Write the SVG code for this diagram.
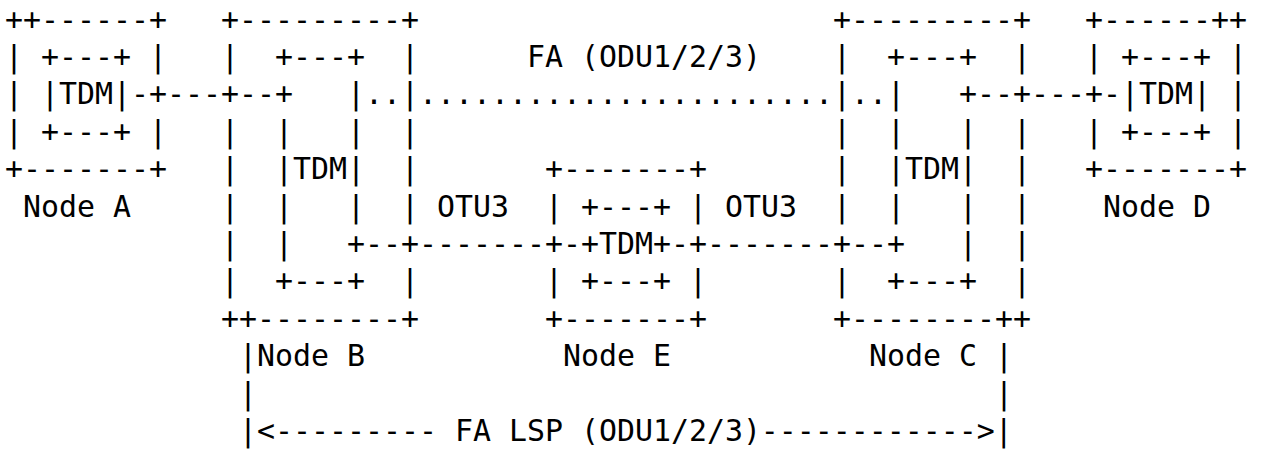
<svg xmlns="http://www.w3.org/2000/svg" width="1261" height="453" viewBox="0 0 1261 453" xml:space="preserve">
<style>
text { font-family: "DejaVu Sans Mono", "Liberation Mono", monospace; font-size: 29.9px; fill: #000; white-space: pre; }
</style>
<rect x="0" y="0" width="1261" height="453" fill="#fff"/>
<g id="node-a">
<text x="5" y="29.5">++------+</text>
<text x="5" y="66.9">| +---+ |</text>
<text x="5" y="104.3">| |TDM|</text>
<text x="5" y="141.7">| +---+ |</text>
<text x="5" y="179.1">+-------+</text>
<text x="23" y="216.5">Node A</text>
</g>
<g id="node-b">
<text x="221" y="29.5">+---------+</text>
<text x="221" y="66.9">|  +---+  |</text>
<text x="347" y="104.3">|</text>
<text x="401" y="104.3">|</text>
<text x="221" y="141.7">|  |   |  |</text>
<text x="221" y="179.1">|  |TDM|  |</text>
<text x="221" y="216.5">|  |   |  |</text>
<text x="221" y="253.9">|  |</text>
<text x="221" y="291.3">|  +---+  |</text>
<text x="221" y="328.7">++--------+</text>
<text x="257" y="366.1">Node B</text>
</g>
<g id="node-e">
<text x="545" y="179.1">+-------+</text>
<text x="545" y="216.5">| +---+ |</text>
<text x="599" y="253.9">TDM</text>
<text x="545" y="291.3">| +---+ |</text>
<text x="545" y="328.7">+-------+</text>
<text x="563" y="366.1">Node E</text>
</g>
<g id="node-c">
<text x="833" y="29.5">+---------+</text>
<text x="833" y="66.9">|  +---+  |</text>
<text x="833" y="104.3">|</text>
<text x="887" y="104.3">|</text>
<text x="833" y="141.7">|  |   |  |</text>
<text x="833" y="179.1">|  |TDM|  |</text>
<text x="833" y="216.5">|  |   |  |</text>
<text x="959" y="253.9">|  |</text>
<text x="833" y="291.3">|  +---+  |</text>
<text x="833" y="328.7">+--------++</text>
<text x="869" y="366.1">Node C</text>
</g>
<g id="node-d">
<text x="1085" y="29.5">+------++</text>
<text x="1085" y="66.9">| +---+ |</text>
<text x="1121" y="104.3">|TDM| |</text>
<text x="1085" y="141.7">| +---+ |</text>
<text x="1085" y="179.1">+-------+</text>
<text x="1103" y="216.5">Node D</text>
</g>
<g id="connectors">
<text x="131" y="104.3">-+---+--+</text>
<text x="959" y="104.3">+--+---+-</text>
<text x="527" y="66.9">FA (ODU1/2/3)</text>
<text x="365" y="104.3">..</text>
<text x="419" y="104.3">.......................</text>
<text x="851" y="104.3">..</text>
<text x="437" y="216.5">OTU3</text>
<text x="725" y="216.5">OTU3</text>
<text x="347" y="253.9">+--+-------+-+</text>
<text x="653" y="253.9">+-+-------+--+</text>
<text x="239" y="366.1">|</text>
<text x="995" y="366.1">|</text>
<text x="239" y="403.5">|</text>
<text x="995" y="403.5">|</text>
<text x="239" y="440.9">|&lt;--------- FA LSP (ODU1/2/3)------------&gt;|</text>
</g>
</svg>
